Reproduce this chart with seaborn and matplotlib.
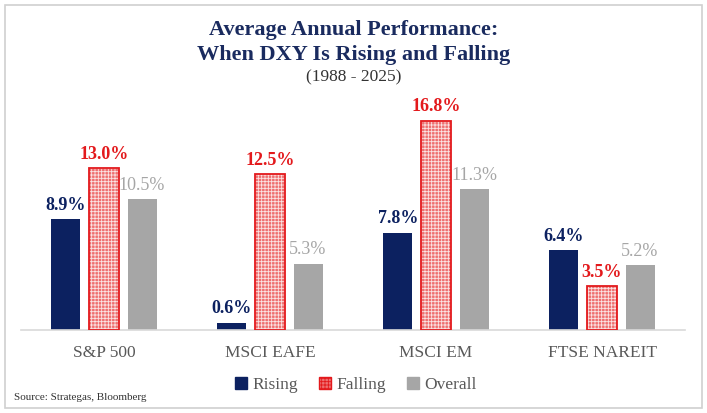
import matplotlib
matplotlib.use("Agg")
import matplotlib.pyplot as plt
import pandas as pd
import seaborn as sns
from matplotlib.patches import Patch, Rectangle

# Data
categories = ['S&P 500', 'MSCI EAFE', 'MSCI EM', 'FTSE NAREIT']
series = ['Rising', 'Falling', 'Overall']
rising = [8.9, 0.6, 7.8, 6.4]
falling = [13.0, 12.5, 16.8, 3.5]
overall = [10.5, 5.3, 11.3, 5.2]

navy = '#0c2160'
red = '#e3191c'
pink = '#ee6f6f'
gray = '#a6a6a6'
text_gray = '#595959'

df = pd.DataFrame({
    'Index': categories * 3,
    'Series': ['Rising'] * 4 + ['Falling'] * 4 + ['Overall'] * 4,
    'Value': rising + falling + overall,
})

sns.set_style('white')
plt.rcParams['font.family'] = ['Liberation Serif', 'DejaVu Serif']
plt.rcParams['hatch.linewidth'] = 0.6

fig = plt.figure(figsize=(7.07, 4.13), dpi=100)
ax = fig.add_axes([21 / 707, 83 / 413, 664 / 707, 224 / 413])

sns.barplot(data=df, x='Index', y='Value', hue='Series', order=categories,
            hue_order=series, palette=[navy, pink, gray], width=0.687,
            gap=0.237, legend=False, ax=ax, saturation=1, linewidth=0)

label_style = {
    'Rising': dict(color=navy, fontweight='bold'),
    'Falling': dict(color=red, fontweight='bold'),
    'Overall': dict(color=gray, fontweight='normal'),
}
for cont, name in zip(ax.containers, series):
    if name == 'Falling':
        for bar in cont:
            bar.set_facecolor(pink)
            bar.set_edgecolor('#fbe3e3')
            bar.set_hatch('+++++')
            ax.add_patch(Rectangle((bar.get_x(), 0), bar.get_width(), bar.get_height(),
                                   fill=False, edgecolor=red, linewidth=1.3, zorder=3))
    ax.bar_label(cont, labels=[f'{v:.1f}%' for v in cont.datavalues], padding=4,
                 fontsize=13, **label_style[name])

ax.set_ylim(0, 18)
ax.set_xlim(-0.5, 3.5)
ax.set_xlabel('')
ax.set_ylabel('')
ax.set_yticks([])
ax.tick_params(axis='x', length=0, pad=11, labelsize=12.5, labelcolor=text_gray)
for s in ['top', 'left', 'right']:
    ax.spines[s].set_visible(False)
ax.spines['bottom'].set_color('#d9d9d9')
ax.spines['bottom'].set_linewidth(1.2)

# Titles
fig.text(0.5, 1 - 30 / 413, 'Average Annual Performance:', ha='center', va='center',
         fontsize=16, fontweight='bold', color='#1a2b5f')
fig.text(0.5, 1 - 55 / 413, 'When DXY Is Rising and Falling', ha='center', va='center',
         fontsize=16, fontweight='bold', color='#1a2b5f')
fig.text(0.5, 1 - 77 / 413, '(1988 - 2025)', ha='center', va='center',
         fontsize=12.5, color='#333333')

# Legend
handles = [
    Patch(facecolor=navy, edgecolor=navy),
    Patch(facecolor=pink, edgecolor=red, hatch='+++++'),
    Patch(facecolor=gray, edgecolor=gray),
]
fig.legend(handles, series, loc='center', bbox_to_anchor=(356 / 707, 1 - 385 / 413),
           ncol=3, frameon=False, handlelength=0.7, handleheight=0.7,
           handletextpad=0.3, columnspacing=1.2, prop={'size': 12.5},
           labelcolor=text_gray)

fig.text(14 / 707, 1 - 397 / 413, 'Source: Strategas, Bloomberg', ha='left', va='center',
         fontsize=8, color='#333333')

fig.patches.append(Rectangle((5 / 707, 5 / 413), 697 / 707, 403 / 413, fill=False,
                             edgecolor='#d0d0d0', linewidth=1.2,
                             transform=fig.transFigure, figure=fig))

fig.savefig('out.png', dpi=100)
